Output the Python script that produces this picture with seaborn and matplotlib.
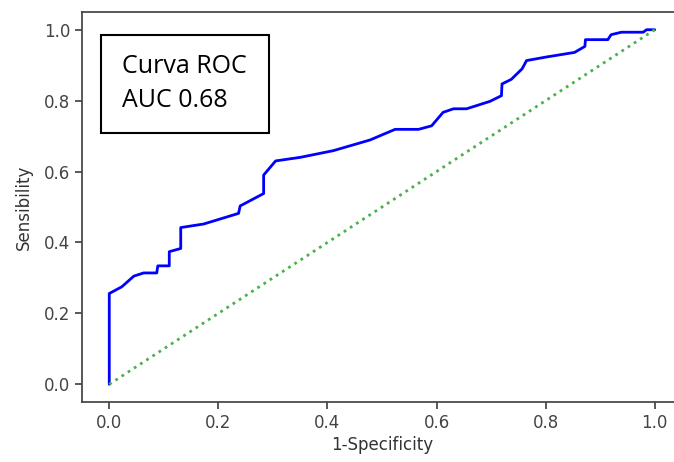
import pandas as pd
import matplotlib
matplotlib.use('Agg')
import matplotlib.pyplot as plt
import seaborn as sns
from matplotlib.patches import Rectangle

# ROC curve points
fpr = [0.0, 0.0, 0.023, 0.045, 0.063, 0.087, 0.089, 0.11, 0.11, 0.131, 0.131,
       0.173, 0.237, 0.24, 0.283, 0.283, 0.305, 0.35, 0.411, 0.478, 0.524,
       0.567, 0.591, 0.612, 0.631, 0.655, 0.698, 0.719, 0.72, 0.737, 0.757,
       0.765, 0.801, 0.853, 0.872, 0.873, 0.914, 0.92, 0.939, 0.979, 0.985, 1.0]
tpr = [0.0, 0.256, 0.275, 0.305, 0.314, 0.314, 0.334, 0.334, 0.374, 0.383, 0.442,
       0.452, 0.482, 0.503, 0.538, 0.59, 0.63, 0.64, 0.659, 0.689, 0.719,
       0.719, 0.729, 0.767, 0.777, 0.777, 0.798, 0.814, 0.847, 0.86, 0.89,
       0.913, 0.923, 0.936, 0.953, 0.972, 0.972, 0.986, 0.993, 0.993, 1.0, 1.0]
chance = [0.0, 1.0]
box_lines = ['Curva ROC', 'AUC 0.68']

sns.set_theme(style="ticks", rc={'axes.edgecolor': '#444444', 'xtick.color': '#444444',
                                 'ytick.color': '#444444', 'text.color': '#333333',
                                 'axes.labelcolor': '#333333'})
plt.rcParams['font.family'] = ['DejaVu Sans']

fig = plt.figure(figsize=(6.74, 4.62), dpi=100)
ax = fig.add_axes([82 / 674, 60 / 462, 600 / 674, 390 / 462])

df = pd.DataFrame({'fpr': fpr, 'tpr': tpr})
sns.lineplot(data=df, x='fpr', y='tpr', sort=False, estimator=None,
             color='blue', linewidth=2, ax=ax)
sns.lineplot(x=chance, y=chance, color='#4cb04c', linestyle=':', linewidth=2, ax=ax)

ax.set_xlim(-0.05, 1.05)
ax.set_ylim(-0.05, 1.05)
ax.set_xticks([0, 0.2, 0.4, 0.6, 0.8, 1.0])
ax.set_yticks([0, 0.2, 0.4, 0.6, 0.8, 1.0])
ax.tick_params(labelsize=12, length=5)
ax.set_xlabel('1-Specificity', fontsize=12, labelpad=3)
ax.set_ylabel('Sensibility', fontsize=12, labelpad=8)
# the reference image is cut off before the right spine
ax.spines['right'].set_visible(False)

# annotation box in figure pixels
W, H = 674, 462
fig.patches.append(Rectangle((101 / W, 1 - 133 / H), 168 / W, 98 / H,
                             transform=fig.transFigure, fill=True, facecolor='white',
                             edgecolor='black', linewidth=1.5, zorder=5))
fig.text(122 / W, 1 - 73 / H, box_lines[0], fontsize=18, family='Open Sans',
         color='black', va='baseline', zorder=6)
fig.text(122 / W, 1 - 107 / H, box_lines[1], fontsize=18, family='Open Sans',
         color='black', va='baseline', zorder=6)

fig.savefig('out.png', dpi=100)
